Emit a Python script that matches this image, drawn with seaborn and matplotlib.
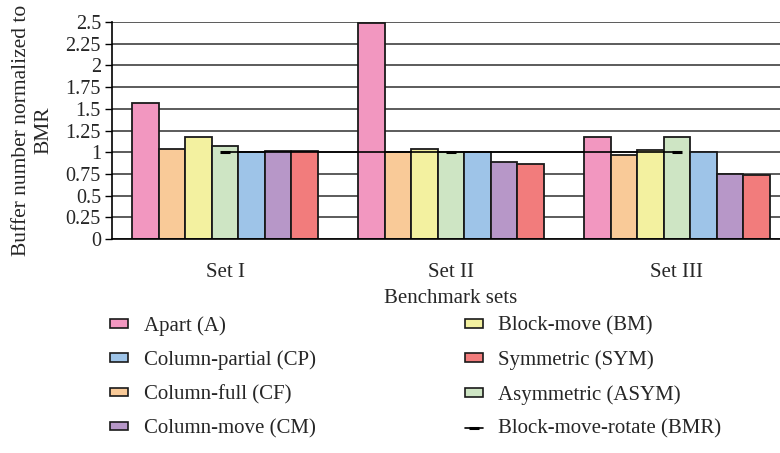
import matplotlib
matplotlib.use("Agg")
import matplotlib.pyplot as plt
import seaborn as sns
import pandas as pd
from matplotlib.patches import Patch
from matplotlib.lines import Line2D

# Benchmark sets on the x axis
sets = ["Set I", "Set II", "Set III"]

# Buffer numbers normalized to BMR, one list per placement method
apart = [1.57, 2.49, 1.17]
column_full = [1.04, 1.00, 0.97]
block_move = [1.17, 1.04, 1.02]
asymmetric = [1.07, 1.00, 1.17]
column_partial = [1.00, 1.00, 1.00]
column_move = [1.01, 0.89, 0.75]
symmetric = [1.01, 0.86, 0.74]
block_move_rotate = [1.00, 1.00, 1.00]

# Bar order inside each group
bar_methods = ["Apart (A)", "Column-full (CF)", "Block-move (BM)", "Asymmetric (ASYM)",
               "Column-partial (CP)", "Column-move (CM)", "Symmetric (SYM)"]
bar_values = [apart, column_full, block_move, asymmetric,
              column_partial, column_move, symmetric]
bmr_label = "Block-move-rotate (BMR)"

# Legend order (two columns, filled top to bottom)
legend_order = ["Apart (A)", "Column-partial (CP)", "Column-full (CF)", "Column-move (CM)",
                "Block-move (BM)", "Symmetric (SYM)", "Asymmetric (ASYM)", bmr_label]

y_ticks = [0, 0.25, 0.5, 0.75, 1, 1.25, 1.5, 1.75, 2, 2.25, 2.5]
y_tick_labels = ["0", "0.25", "0.5", "0.75", "1", "1.25", "1.5", "1.75", "2", "2.25", "2.5"]

palette = {
    "Apart (A)": "#F297C0",
    "Column-full (CF)": "#F9CA98",
    "Block-move (BM)": "#F3F1A0",
    "Asymmetric (ASYM)": "#CEE5C4",
    "Column-partial (CP)": "#9EC4E8",
    "Column-move (CM)": "#B797C8",
    "Symmetric (SYM)": "#F27C7C",
}

rows = []
for m, vals in zip(bar_methods, bar_values):
    for s, v in zip(sets, vals):
        rows.append({"set": s, "method": m, "value": v})
df = pd.DataFrame(rows)
df_bmr = pd.DataFrame({"set": sets, "value": block_move_rotate})

sns.set_style("white")
plt.rcParams["font.family"] = ["Liberation Serif", "DejaVu Serif"]
plt.rcParams["font.size"] = 15

fig = plt.figure(figsize=(7.8, 4.53), dpi=100)
ax = fig.add_axes([112 / 780, 214 / 453, 678 / 780, 217 / 453])

edge = "#1a1a1a"
sns.barplot(data=df, x="set", y="value", hue="method", hue_order=bar_methods,
            palette=palette, saturation=1, width=0.823, gap=0,
            edgecolor=edge, linewidth=1.3, legend=False, ax=ax, zorder=2)

sns.pointplot(data=df_bmr, x="set", y="value", color="black", errorbar=None,
              markers="_", linestyles="-", markersize=7, markeredgewidth=2.2,
              linewidth=1.2, ax=ax, zorder=4)

ax.set_ylim(0, 2.5)
ax.set_xlim(-0.5, 2.5)
ax.set_yticks(y_ticks)
ax.set_yticklabels(y_tick_labels)
ax.yaxis.grid(True, color="#404040", linewidth=1.2)
ax.xaxis.grid(False)
ax.set_axisbelow(True)

ax.set_xticks(range(len(sets)))
ax.set_xticklabels(sets)
ax.set_xticks([-0.5, 0.5, 1.5, 2.5], minor=True)
ax.tick_params(axis="x", which="major", length=0, pad=17, labelsize=15)
ax.tick_params(axis="x", which="minor", length=5, width=1, color="black", direction="out")
ax.tick_params(axis="y", which="major", length=5, width=1, color="black",
               direction="out", left=True, labelsize=14.5, pad=3)

for side in ["top", "right"]:
    ax.spines[side].set_visible(False)
for side in ["left", "bottom"]:
    ax.spines[side].set_color("black")
    ax.spines[side].set_linewidth(1.2)

ax.set_xlabel("Benchmark sets", fontsize=15, labelpad=5)
ax.set_ylabel("Buffer number normalized to\nBMR", fontsize=15.5, labelpad=9,
              linespacing=1.25)

handles = []
for lab in legend_order:
    if lab == bmr_label:
        handles.append(Line2D([], [], color="black", linewidth=1.2, marker="_",
                              markersize=7, markeredgewidth=2.2))
    else:
        handles.append(Patch(facecolor=palette[lab], edgecolor=edge, linewidth=1.2))

fig.legend(handles, legend_order, loc="upper left",
           bbox_to_anchor=(110 / 780, 1 - 316 / 453), ncol=2, frameon=False,
           fontsize=15, handlelength=0.87, handleheight=0.27, handletextpad=0.75,
           labelspacing=0.71, columnspacing=7.15, borderpad=0, borderaxespad=0)

fig.savefig("out.png", dpi=100)
